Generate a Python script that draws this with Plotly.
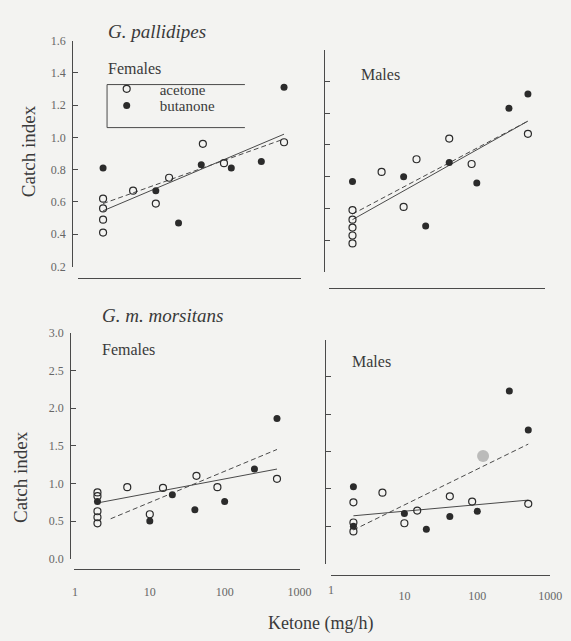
import plotly.graph_objects as go

W, H = 571, 641

# ---------------- data ----------------
# G. pallidipes, females
pf_ace_x = [2, 2, 2, 2, 5, 10, 15, 42, 80, 500]
pf_ace_y = [0.62, 0.56, 0.49, 0.41, 0.67, 0.59, 0.75, 0.96, 0.84, 0.97]
pf_but_x = [2, 10, 20, 40, 100, 250, 500]
pf_but_y = [0.81, 0.67, 0.47, 0.83, 0.81, 0.85, 1.31]
pf_fit_ace_x = [2, 500]
pf_fit_ace_y = [0.545, 1.02]
pf_fit_but_x = [2, 500]
pf_fit_but_y = [0.59, 0.99]

# G. pallidipes, males
pm_ace_x = [2, 2, 2, 2, 2, 5, 10, 15, 42, 85, 500]
pm_ace_y = [0.59, 0.53, 0.48, 0.43, 0.38, 0.83, 0.61, 0.91, 1.04, 0.88, 1.07]
pm_but_x = [2, 10, 20, 42, 100, 275, 500]
pm_but_y = [0.77, 0.80, 0.49, 0.89, 0.76, 1.23, 1.32]
pm_fit_ace_x = [2, 500]
pm_fit_ace_y = [0.53, 1.15]
pm_fit_but_x = [2, 500]
pm_fit_but_y = [0.565, 1.15]

# G. m. morsitans, females
mf_ace_x = [2, 2, 2, 2, 2, 5, 10, 15, 42, 80, 500]
mf_ace_y = [0.88, 0.83, 0.63, 0.55, 0.47, 0.95, 0.59, 0.94, 1.10, 0.95, 1.06]
mf_but_x = [2, 10, 20, 40, 100, 250, 500]
mf_but_y = [0.76, 0.50, 0.85, 0.65, 0.76, 1.19, 1.86]
mf_fit_ace_x = [2, 500]
mf_fit_ace_y = [0.74, 1.19]
mf_fit_but_x = [3, 500]
mf_fit_but_y = [0.53, 1.45]

# G. m. morsitans, males
mm_ace_x = [2, 2, 2, 5, 10, 15, 42, 85, 500]
mm_ace_y = [0.82, 0.55, 0.43, 0.95, 0.54, 0.71, 0.90, 0.83, 0.80]
mm_but_x = [2, 2, 10, 20, 42, 100, 275, 500]
mm_but_y = [1.03, 0.50, 0.67, 0.46, 0.63, 0.70, 2.31, 1.79]
mm_grey_x = [120]
mm_grey_y = [1.44]
mm_fit_ace_x = [2, 500]
mm_fit_ace_y = [0.64, 0.85]
mm_fit_but_x = [2, 500]
mm_fit_but_y = [0.45, 1.60]

x_tickvals = [1, 10, 100, 1000]
x_ticktext = ["1", "10", "100", "1000"]
y_top_ticks = [0.2, 0.4, 0.6, 0.8, 1.0, 1.2, 1.4, 1.6]
y_bot_ticks = [0.0, 0.5, 1.0, 1.5, 2.0, 2.5, 3.0]

# ---------------- style ----------------
FONT = "Liberation Serif"
INK = "#2b2b2b"
LINE = "#4a4a4a"
TXT = "#3a3a3a"
TICKTXT = "#666666"
BG = "#f3f3f1"


def X(p):
    return p / W


def Y(p):
    return 1 - p / H


fig = go.Figure()

panels = [
    ("x", "y", pf_ace_x, pf_ace_y, pf_but_x, pf_but_y, pf_fit_ace_x, pf_fit_ace_y, pf_fit_but_x, pf_fit_but_y),
    ("x2", "y2", pm_ace_x, pm_ace_y, pm_but_x, pm_but_y, pm_fit_ace_x, pm_fit_ace_y, pm_fit_but_x, pm_fit_but_y),
    ("x3", "y3", mf_ace_x, mf_ace_y, mf_but_x, mf_but_y, mf_fit_ace_x, mf_fit_ace_y, mf_fit_but_x, mf_fit_but_y),
    ("x4", "y4", mm_ace_x, mm_ace_y, mm_but_x, mm_but_y, mm_fit_ace_x, mm_fit_ace_y, mm_fit_but_x, mm_fit_but_y),
]

for i, (xa, ya, ax, ay, bx, by, fax, fay, fbx, fby) in enumerate(panels):
    first = i == 0
    fig.add_trace(go.Scatter(x=fax, y=fay, mode="lines", xaxis=xa, yaxis=ya,
                             line=dict(color=LINE, width=1), showlegend=False, hoverinfo="skip"))
    fig.add_trace(go.Scatter(x=fbx, y=fby, mode="lines", xaxis=xa, yaxis=ya,
                             line=dict(color=LINE, width=1, dash="5px,3px"), showlegend=False, hoverinfo="skip"))
    if xa == "x4":
        fig.add_trace(go.Scatter(x=mm_grey_x, y=mm_grey_y, mode="markers", xaxis=xa, yaxis=ya,
                                 marker=dict(symbol="circle", size=12, color="rgba(150,150,150,0.6)"),
                                 showlegend=False))
    fig.add_trace(go.Scatter(x=ax, y=ay, mode="markers", xaxis=xa, yaxis=ya, name="acetone",
                             marker=dict(symbol="circle-open", size=7, color=INK, line=dict(width=1.2, color=INK)),
                             showlegend=first, legend="legend"))
    fig.add_trace(go.Scatter(x=bx, y=by, mode="markers", xaxis=xa, yaxis=ya, name="butanone",
                             marker=dict(symbol="circle", size=7, color=INK),
                             showlegend=first, legend="legend2"))

common_x = dict(type="log", showgrid=False, zeroline=False, showline=True, linecolor=LINE, linewidth=1.2,
                anchor="free", fixedrange=True)
common_y = dict(showgrid=False, zeroline=False, showline=True, linecolor=LINE, linewidth=1.2,
                anchor="free", ticks="inside", ticklen=5, tickcolor=LINE, fixedrange=True)

leg_common = dict(xanchor="left", yanchor="top", bgcolor="rgba(0,0,0,0)", borderwidth=0,
                  font=dict(size=15, family=FONT, color=TXT), itemwidth=56)

# lower-right x axis geometry (pixels) and its log range
X4_LEFT, X4_RIGHT = 337, 562
X4_RANGE = [-0.01, 3.0]

fig.update_layout(
    width=W, height=H,
    margin=dict(l=0, r=0, t=0, b=0),
    paper_bgcolor=BG, plot_bgcolor=BG,
    font=dict(family=FONT, color=TXT),
    xaxis=dict(common_x, domain=[X(78), X(307)], range=[-0.03, 2.93], position=Y(277),
               showticklabels=False, ticks=""),
    yaxis=dict(common_y, domain=[Y(265.3), Y(34.3)], range=[0.2, 1.6], position=X(72),
               tickvals=y_top_ticks, tickformat=".1f", ticklabelstandoff=4,
               tickfont=dict(size=12, color=TICKTXT)),
    xaxis2=dict(common_x, domain=[X(335), X(557)], range=[-0.023, 2.937], position=Y(287),
                showticklabels=False, ticks=""),
    yaxis2=dict(common_y, domain=[Y(271), Y(43.5)], range=[0.2, 1.6], position=X(330),
                tickvals=y_top_ticks, showticklabels=False),
    xaxis3=dict(common_x, domain=[X(74), X(305)], range=[-0.01, 3.0], position=Y(575),
                tickmode="array", tickvals=x_tickvals, ticktext=x_ticktext, ticks="", ticklabelstandoff=11,
                tickfont=dict(size=12, color=TICKTXT)),
    yaxis3=dict(common_y, domain=[Y(564), Y(333)], range=[0, 3], position=X(70),
                tickvals=y_bot_ticks, tickformat=".1f", ticklabelstandoff=4,
                tickfont=dict(size=12, color=TICKTXT)),
    xaxis4=dict(common_x, domain=[X(X4_LEFT), X(X4_RIGHT)], range=X4_RANGE, position=Y(581),
                tickmode="array", tickvals=x_tickvals[1:], ticktext=x_ticktext[1:], ticks="",
                ticklabelstandoff=9, tickfont=dict(size=12, color=TICKTXT)),
    yaxis4=dict(common_y, domain=[Y(569), Y(340)], range=[0, 3], position=X(331),
                tickvals=y_bot_ticks, showticklabels=False),
    legend=dict(leg_common, x=X(94), y=Y(67)),
    legend2=dict(leg_common, x=X(94), y=Y(84)),
    showlegend=True,
)

# first tick label of the lower-right axis (plotly drops it at the panel corner);
# its position is x = 1 on that axis' log scale
x1_px = X4_LEFT + (0 - X4_RANGE[0]) / (X4_RANGE[1] - X4_RANGE[0]) * (X4_RIGHT - X4_LEFT)
fig.add_annotation(text=x_ticktext[0], x=X(x1_px), xref="paper", y=Y(596), yref="paper",
                   xanchor="center", yanchor="middle", showarrow=False,
                   font=dict(family=FONT, size=12, color=TICKTXT))

# legend frame (open on the right, as in the scan)
L, T, R, B = X(107.7), Y(79.3), X(249), Y(123.3)
fig.add_shape(type="path", xref="paper", yref="paper",
              path=f"M {R} {T} L {L} {T} L {L} {B} L {R} {B}",
              line=dict(color=LINE, width=1))

ann = [
    ("G. pallidipes", 107, 25, 19, "italic", "left", 0),
    ("Females", 107, 63, 16, "normal", "left", 0),
    ("Males", 366, 69, 16, "normal", "left", 0),
    ("G. m. morsitans", 100, 315, 19, "italic", "left", 0),
    ("Females", 100, 350, 16, "normal", "left", 0),
    ("Males", 357, 362, 16, "normal", "left", 0),
    ("Ketone (mg/h)", 327, 630, 18, "normal", "center", 0),
    ("Catch index", 27, 147, 19, "normal", "center", -90),
    ("Catch index", 19, 481, 19, "normal", "center", -90),
]
for text, px, py, size, style, xanchor, ang in ann:
    fig.add_annotation(text=text, x=X(px), y=Y(py), xref="paper", yref="paper",
                       xanchor=xanchor, yanchor="middle", showarrow=False, textangle=ang,
                       font=dict(family=FONT, size=size, color=TXT, style=style))

fig.write_html("out.html")
